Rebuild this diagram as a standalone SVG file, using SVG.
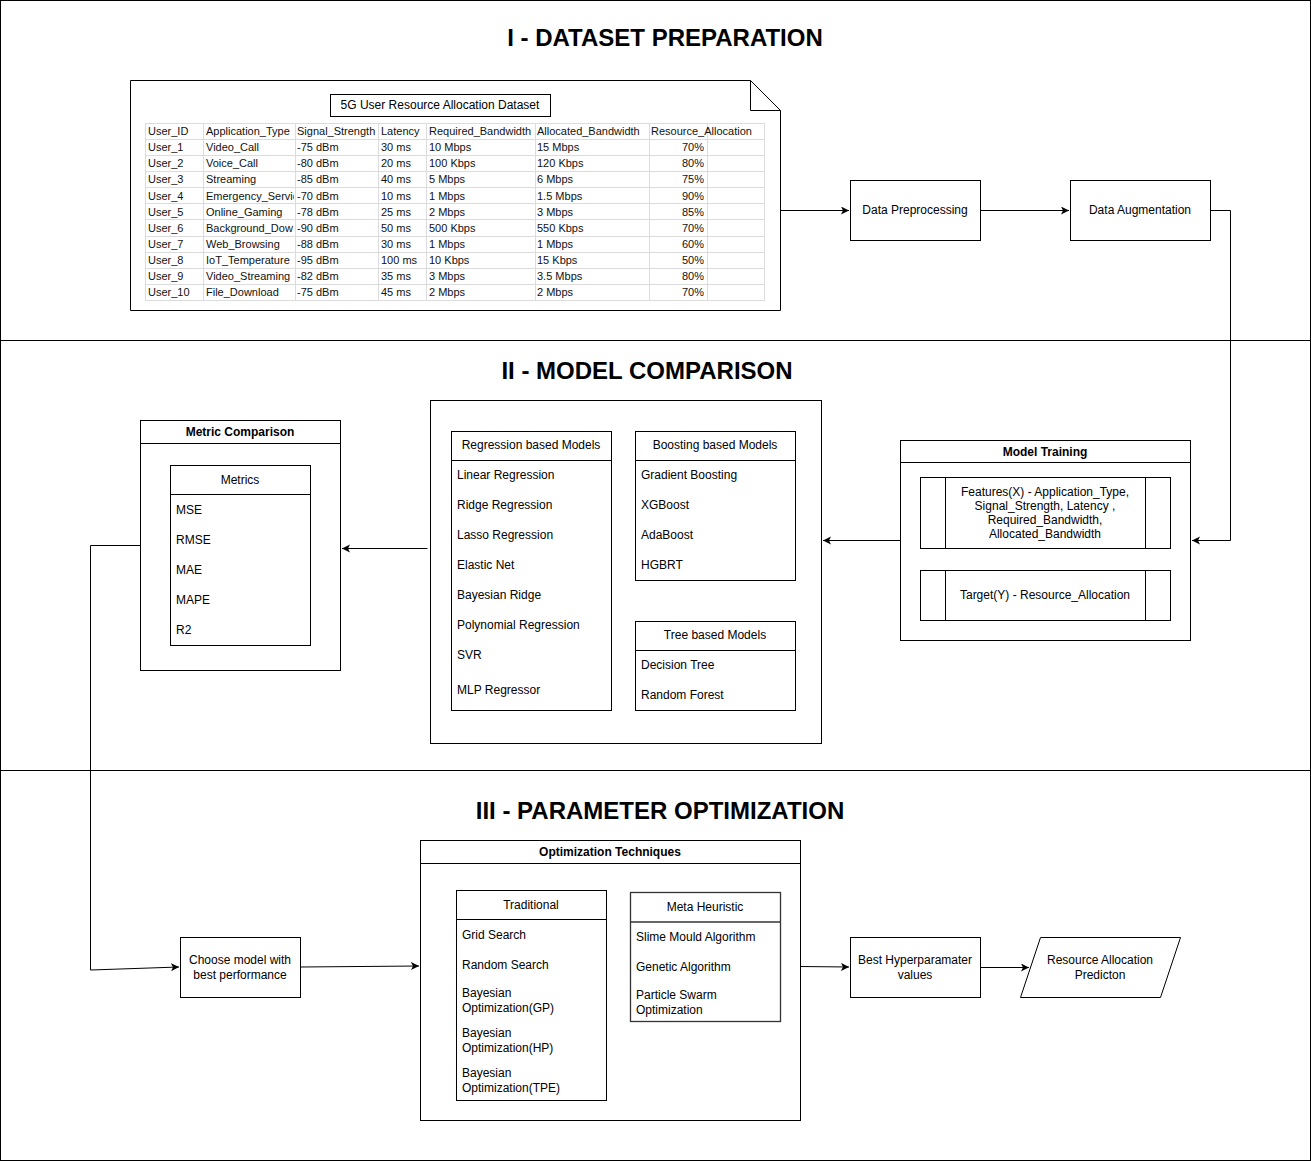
<svg xmlns="http://www.w3.org/2000/svg" width="1311" height="1161" viewBox="0 0 1311 1161">
<style>
.b{fill:#fff;stroke:#000;stroke-width:1}
.n{fill:none;stroke:#000;stroke-width:1}
.t{font-family:"Liberation Sans",Arial,sans-serif;font-size:12px;fill:#000}
.c{text-anchor:middle}
.h{font-weight:bold}
.tt{font-family:"Liberation Sans",Arial,sans-serif;font-size:24px;font-weight:bold;text-anchor:middle;fill:#000}
.tb{font-family:"Liberation Sans",Arial,sans-serif;font-size:11px;fill:#111}
.g{stroke:#dcdcdc;stroke-width:1;fill:none}
.e{fill:none;stroke:#000;stroke-width:1}
</style>
<defs>
<marker id="ar" markerWidth="10" markerHeight="10" refX="8" refY="4" orient="auto" markerUnits="userSpaceOnUse">
<path d="M0,0 L8,4 L0,8 L2,4 Z" fill="#000"/>
</marker>
<clipPath id="col2"><rect x="203" y="120" width="91" height="185"/></clipPath>
</defs>
<rect width="1311" height="1161" fill="#fff"/>

<g id="sections">
<rect x="0.5" y="0.5" width="1310" height="340" class="n"/>
<rect x="0.5" y="340.5" width="1310" height="430" class="n"/>
<rect x="0.5" y="770.5" width="1310" height="390" class="n"/>
<text x="665" y="46" class="tt">I - DATASET PREPARATION</text>
<text x="647" y="379" class="tt">II - MODEL COMPARISON</text>
<text x="660" y="819" class="tt">III - PARAMETER OPTIMIZATION</text>
</g>

<g id="dataset">
<path d="M130.5,80.5 H750.5 L780.5,110.5 V310.5 H130.5 Z" class="b"/>
<path d="M750.5,80.5 V110.5 H780.5" class="n"/>
<rect x="330.5" y="94.5" width="220" height="22" class="b"/>
<text x="440" y="109" class="t c">5G User Resource Allocation Dataset</text>
<g class="g">
<path d="M145,123.5 H764 M145,139.5 H764 M145,155.5 H764 M145,171.5 H764 M145,187.5 H764 M145,203.5 H764 M145,219.5 H764 M145,236.5 H764 M145,252.5 H764 M145,268.5 H764 M145,284.5 H764 M145,300.5 H764"/>
<path d="M145.5,123 V301 M203.5,123 V301 M295.5,123 V301 M378.5,123 V301 M426.5,123 V301 M535.5,123 V301 M649.5,123 V301 M707.5,123 V301 M764.5,123 V301"/>
</g>
<g class="tb">
<text x="148" y="135">User_ID</text><text x="206" y="135">Application_Type</text><text x="297" y="135">Signal_Strength</text><text x="381" y="135">Latency</text><text x="429" y="135">Required_Bandwidth</text><text x="537" y="135">Allocated_Bandwidth</text><text x="651" y="135">Resource_Allocation</text>
<text x="148" y="151">User_1</text><text x="206" y="151">Video_Call</text><text x="297" y="151">-75 dBm</text><text x="381" y="151">30 ms</text><text x="429" y="151">10 Mbps</text><text x="537" y="151">15 Mbps</text><text x="704" y="151" text-anchor="end">70%</text>
<text x="148" y="167">User_2</text><text x="206" y="167">Voice_Call</text><text x="297" y="167">-80 dBm</text><text x="381" y="167">20 ms</text><text x="429" y="167">100 Kbps</text><text x="537" y="167">120 Kbps</text><text x="704" y="167" text-anchor="end">80%</text>
<text x="148" y="183">User_3</text><text x="206" y="183">Streaming</text><text x="297" y="183">-85 dBm</text><text x="381" y="183">40 ms</text><text x="429" y="183">5 Mbps</text><text x="537" y="183">6 Mbps</text><text x="704" y="183" text-anchor="end">75%</text>
<text x="148" y="200">User_4</text><text x="206" y="200" clip-path="url(#col2)">Emergency_Servic</text><text x="297" y="200">-70 dBm</text><text x="381" y="200">10 ms</text><text x="429" y="200">1 Mbps</text><text x="537" y="200">1.5 Mbps</text><text x="704" y="200" text-anchor="end">90%</text>
<text x="148" y="216">User_5</text><text x="206" y="216">Online_Gaming</text><text x="297" y="216">-78 dBm</text><text x="381" y="216">25 ms</text><text x="429" y="216">2 Mbps</text><text x="537" y="216">3 Mbps</text><text x="704" y="216" text-anchor="end">85%</text>
<text x="148" y="232">User_6</text><text x="206" y="232" clip-path="url(#col2)">Background_Dow</text><text x="297" y="232">-90 dBm</text><text x="381" y="232">50 ms</text><text x="429" y="232">500 Kbps</text><text x="537" y="232">550 Kbps</text><text x="704" y="232" text-anchor="end">70%</text>
<text x="148" y="248">User_7</text><text x="206" y="248">Web_Browsing</text><text x="297" y="248">-88 dBm</text><text x="381" y="248">30 ms</text><text x="429" y="248">1 Mbps</text><text x="537" y="248">1 Mbps</text><text x="704" y="248" text-anchor="end">60%</text>
<text x="148" y="264">User_8</text><text x="206" y="264">IoT_Temperature</text><text x="297" y="264">-95 dBm</text><text x="381" y="264">100 ms</text><text x="429" y="264">10 Kbps</text><text x="537" y="264">15 Kbps</text><text x="704" y="264" text-anchor="end">50%</text>
<text x="148" y="280">User_9</text><text x="206" y="280">Video_Streaming</text><text x="297" y="280">-82 dBm</text><text x="381" y="280">35 ms</text><text x="429" y="280">3 Mbps</text><text x="537" y="280">3.5 Mbps</text><text x="704" y="280" text-anchor="end">80%</text>
<text x="148" y="296">User_10</text><text x="206" y="296">File_Download</text><text x="297" y="296">-75 dBm</text><text x="381" y="296">45 ms</text><text x="429" y="296">2 Mbps</text><text x="537" y="296">2 Mbps</text><text x="704" y="296" text-anchor="end">70%</text>
</g>
</g>

<g id="preprocessing">
<rect x="850.5" y="180.5" width="130" height="60" class="b"/>
<text x="915" y="214" class="t c">Data Preprocessing</text>
</g>
<g id="augmentation">
<rect x="1070.5" y="180.5" width="140" height="60" class="b"/>
<text x="1140" y="214" class="t c">Data Augmentation</text>
</g>

<g id="model-training">
<rect x="900.5" y="440.5" width="290" height="200" class="b"/>
<path d="M900.5,462.5 H1190.5" class="n"/>
<text x="1045" y="456" class="t c h">Model Training</text>
<rect x="920.5" y="477.5" width="250" height="71" class="b"/>
<path d="M945.5,477.5 V548.5 M1145.5,477.5 V548.5" class="n"/>
<text x="1045" y="496" class="t c">Features(X) - Application_Type,</text>
<text x="1045" y="510" class="t c">Signal_Strength, Latency ,</text>
<text x="1045" y="524" class="t c">Required_Bandwidth,</text>
<text x="1045" y="538" class="t c">Allocated_Bandwidth</text>
<rect x="920.5" y="570.5" width="250" height="50" class="b"/>
<path d="M945.5,570.5 V620.5 M1145.5,570.5 V620.5" class="n"/>
<text x="1045" y="599" class="t c">Target(Y) - Resource_Allocation</text>
</g>

<g id="model-comparison">
<rect x="430.5" y="400.5" width="391" height="343" class="b"/>
<rect x="451.5" y="431.5" width="160" height="279" class="b"/>
<path d="M451.5,460.5 H611.5" class="n"/>
<text x="531" y="449" class="t c">Regression based Models</text>
<text x="457" y="479" class="t">Linear Regression</text>
<text x="457" y="509" class="t">Ridge Regression</text>
<text x="457" y="539" class="t">Lasso Regression</text>
<text x="457" y="569" class="t">Elastic Net</text>
<text x="457" y="599" class="t">Bayesian Ridge</text>
<text x="457" y="629" class="t">Polynomial Regression</text>
<text x="457" y="659" class="t">SVR</text>
<text x="457" y="694" class="t">MLP Regressor</text>
<rect x="635.5" y="431.5" width="160" height="149" class="b"/>
<path d="M635.5,460.5 H795.5" class="n"/>
<text x="715" y="449" class="t c">Boosting based Models</text>
<text x="641" y="479" class="t">Gradient Boosting</text>
<text x="641" y="509" class="t">XGBoost</text>
<text x="641" y="539" class="t">AdaBoost</text>
<text x="641" y="569" class="t">HGBRT</text>
<rect x="635.5" y="621.5" width="160" height="89" class="b"/>
<path d="M635.5,650.5 H795.5" class="n"/>
<text x="715" y="639" class="t c">Tree based Models</text>
<text x="641" y="669" class="t">Decision Tree</text>
<text x="641" y="699" class="t">Random Forest</text>
</g>

<g id="metric-comparison">
<rect x="140.5" y="420.5" width="200" height="250" class="b"/>
<path d="M140.5,443.5 H340.5" class="n"/>
<text x="240" y="436" class="t c h">Metric Comparison</text>
<rect x="170.5" y="465.5" width="140" height="180" class="b"/>
<path d="M170.5,494.5 H310.5" class="n"/>
<text x="240" y="484" class="t c">Metrics</text>
<text x="176" y="514" class="t">MSE</text>
<text x="176" y="544" class="t">RMSE</text>
<text x="176" y="574" class="t">MAE</text>
<text x="176" y="604" class="t">MAPE</text>
<text x="176" y="634" class="t">R2</text>
</g>

<g id="choose-model">
<rect x="180.5" y="937.5" width="120" height="60" class="b"/>
<text x="240" y="964" class="t c">Choose model with</text>
<text x="240" y="979" class="t c">best performance</text>
</g>

<g id="optimization">
<rect x="420.5" y="840.5" width="380" height="280" class="b"/>
<path d="M420.5,863.5 H800.5" class="n"/>
<text x="610" y="856" class="t c h">Optimization Techniques</text>
<rect x="456.5" y="890.5" width="150" height="210" class="b"/>
<path d="M456.5,919.5 H606.5" class="n"/>
<text x="531" y="909" class="t c">Traditional</text>
<text x="462" y="939" class="t">Grid Search</text>
<text x="462" y="969" class="t">Random Search</text>
<text x="462" y="997" class="t">Bayesian</text>
<text x="462" y="1012" class="t">Optimization(GP)</text>
<text x="462" y="1037" class="t">Bayesian</text>
<text x="462" y="1052" class="t">Optimization(HP)</text>
<text x="462" y="1077" class="t">Bayesian</text>
<text x="462" y="1092" class="t">Optimization(TPE)</text>
<rect x="630.5" y="892.5" width="150" height="129" fill="#fff" stroke="#333" stroke-width="1.3"/>
<path d="M630.5,922 H780.5" stroke="#333" stroke-width="1.3"/>
<text x="705" y="911" class="t c">Meta Heuristic</text>
<text x="636" y="941" class="t">Slime Mould Algorithm</text>
<text x="636" y="971" class="t">Genetic Algorithm</text>
<text x="636" y="999" class="t">Particle Swarm</text>
<text x="636" y="1014" class="t">Optimization</text>
</g>

<g id="best-hyperparameter">
<rect x="850.5" y="937.5" width="130" height="60" class="b"/>
<text x="915" y="964" class="t c">Best Hyperparamater</text>
<text x="915" y="979" class="t c">values</text>
</g>

<g id="prediction">
<path d="M1040.5,937.5 H1180.5 L1160.5,997.5 H1020.5 Z" class="b"/>
<text x="1100" y="964" class="t c">Resource Allocation</text>
<text x="1100" y="979" class="t c">Predicton</text>
</g>

<g id="connectors">
<path d="M780.5,210.5 H849" class="e" marker-end="url(#ar)"/>
<path d="M980.5,210.5 H1069" class="e" marker-end="url(#ar)"/>
<path d="M1210.5,210.5 H1230.5 V540.5 H1192" class="e" marker-end="url(#ar)"/>
<path d="M900.5,540.5 H823" class="e" marker-end="url(#ar)"/>
<path d="M427.5,548.5 H342" class="e" marker-end="url(#ar)"/>
<path d="M140.5,545.5 H90.5 V970 L179,967" class="e" marker-end="url(#ar)"/>
<path d="M300.5,967 L419,966" class="e" marker-end="url(#ar)"/>
<path d="M800.5,966.5 L849,967" class="e" marker-end="url(#ar)"/>
<path d="M980.5,967.5 H1029" class="e" marker-end="url(#ar)"/>
</g>
</svg>
